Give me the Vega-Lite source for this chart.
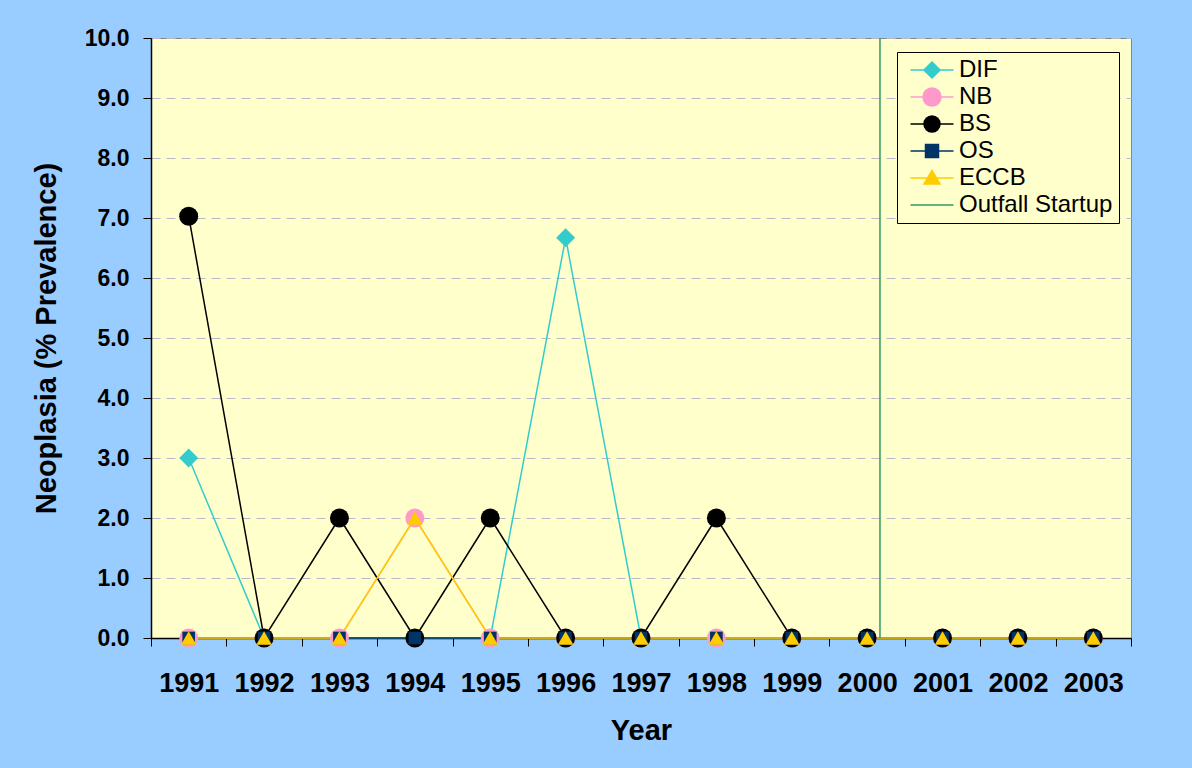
{
  "$schema": "https://vega.github.io/schema/vega-lite/v6.json",
  "width": 980,
  "height": 600,
  "autosize": {"type": "none"},
  "padding": {"left": 151, "top": 38, "right": 61, "bottom": 130},
  "background": "#99CCFF",
  "config": {
    "font": "Liberation Sans",
    "view": {"fill": "#FFFFCC", "stroke": "#888888", "strokeWidth": 1}
  },
  "datasets": {
    "main": [
      {"year": 1991, "series": "DIF", "value": 3.0},
      {"year": 1992, "series": "DIF", "value": 0},
      {"year": 1993, "series": "DIF", "value": 0},
      {"year": 1994, "series": "DIF", "value": 0},
      {"year": 1995, "series": "DIF", "value": 0},
      {"year": 1996, "series": "DIF", "value": 6.67},
      {"year": 1997, "series": "DIF", "value": 0},
      {"year": 1998, "series": "DIF", "value": 0},
      {"year": 1999, "series": "DIF", "value": 0},
      {"year": 2000, "series": "DIF", "value": 0},
      {"year": 2001, "series": "DIF", "value": 0},
      {"year": 2002, "series": "DIF", "value": 0},
      {"year": 2003, "series": "DIF", "value": 0},
      {"year": 1991, "series": "NB", "value": 0},
      {"year": 1992, "series": "NB", "value": 0},
      {"year": 1993, "series": "NB", "value": 0},
      {"year": 1994, "series": "NB", "value": 2.0},
      {"year": 1995, "series": "NB", "value": 0},
      {"year": 1996, "series": "NB", "value": 0},
      {"year": 1997, "series": "NB", "value": 0},
      {"year": 1998, "series": "NB", "value": 0},
      {"year": 1999, "series": "NB", "value": 0},
      {"year": 2000, "series": "NB", "value": 0},
      {"year": 2001, "series": "NB", "value": 0},
      {"year": 2002, "series": "NB", "value": 0},
      {"year": 2003, "series": "NB", "value": 0},
      {"year": 1991, "series": "BS", "value": 7.03},
      {"year": 1992, "series": "BS", "value": 0},
      {"year": 1993, "series": "BS", "value": 2.0},
      {"year": 1994, "series": "BS", "value": 0},
      {"year": 1995, "series": "BS", "value": 2.0},
      {"year": 1996, "series": "BS", "value": 0},
      {"year": 1997, "series": "BS", "value": 0},
      {"year": 1998, "series": "BS", "value": 2.0},
      {"year": 1999, "series": "BS", "value": 0},
      {"year": 2000, "series": "BS", "value": 0},
      {"year": 2001, "series": "BS", "value": 0},
      {"year": 2002, "series": "BS", "value": 0},
      {"year": 2003, "series": "BS", "value": 0},
      {"year": 1991, "series": "OS", "value": 0},
      {"year": 1992, "series": "OS", "value": 0},
      {"year": 1993, "series": "OS", "value": 0},
      {"year": 1994, "series": "OS", "value": 0},
      {"year": 1995, "series": "OS", "value": 0},
      {"year": 1996, "series": "OS", "value": 0},
      {"year": 1997, "series": "OS", "value": 0},
      {"year": 1998, "series": "OS", "value": 0},
      {"year": 1999, "series": "OS", "value": 0},
      {"year": 2000, "series": "OS", "value": 0},
      {"year": 2001, "series": "OS", "value": 0},
      {"year": 2002, "series": "OS", "value": 0},
      {"year": 2003, "series": "OS", "value": 0},
      {"year": 1991, "series": "ECCB", "value": 0},
      {"year": 1992, "series": "ECCB", "value": 0},
      {"year": 1993, "series": "ECCB", "value": 0},
      {"year": 1994, "series": "ECCB", "value": 2.0},
      {"year": 1995, "series": "ECCB", "value": 0},
      {"year": 1996, "series": "ECCB", "value": 0},
      {"year": 1997, "series": "ECCB", "value": 0},
      {"year": 1998, "series": "ECCB", "value": 0},
      {"year": 1999, "series": "ECCB", "value": 0},
      {"year": 2000, "series": "ECCB", "value": 0},
      {"year": 2001, "series": "ECCB", "value": 0},
      {"year": 2002, "series": "ECCB", "value": 0},
      {"year": 2003, "series": "ECCB", "value": 0}
    ],
    "outfall": [{"year": 2000, "series": "Outfall Startup"}]
  },
  "layer": [
    {
      "data": {"name": "main"},
      "mark": {"type": "line", "strokeWidth": 1.5},
      "encoding": {
        "x": {
          "field": "year", "type": "ordinal",
          "scale": {"domain": [1991,1992,1993,1994,1995,1996,1997,1998,1999,2000,2001,2002,2003], "paddingInner": 0, "paddingOuter": 0},
          "axis": {
            "title": "Year", "titleFontSize": 29, "titleFontWeight": "bold", "titleColor": "black", "titlePadding": 20,
            "labelAngle": 0, "labelFontSize": 27, "labelFontWeight": "bold", "labelColor": "black", "labelPadding": 24,
            "tickBand": "extent", "tickSize": 8, "tickColor": "black", "domainColor": "black", "domainWidth": 1.5, "grid": false
          }
        },
        "y": {
          "field": "value", "type": "quantitative",
          "scale": {"domain": [0, 10], "nice": false},
          "axis": {
            "title": "Neoplasia (% Prevalence)", "titleFontSize": 29, "titleFontWeight": "bold", "titleColor": "black", "titlePadding": 23,
            "values": [0,1,2,3,4,5,6,7,8,9,10], "format": ".1f",
            "labelFontSize": 23, "labelFontWeight": "bold", "labelColor": "black", "labelPadding": 14,
            "tickSize": 8, "tickColor": "black", "domainColor": "black", "domainWidth": 1.5,
            "grid": true, "gridColor": "#B8B8C8", "gridDash": [9, 6], "gridWidth": 1
          }
        },
        "color": {
          "field": "series", "type": "nominal",
          "scale": {
            "domain": ["DIF", "NB", "BS", "OS", "ECCB", "Outfall Startup"],
            "range": ["#33CCCC", "#FF99CC", "#000000", "#003366", "#FFCC00", "#339966"]
          },
          "legend": {
            "title": null, "orient": "none", "legendX": 746, "legendY": 14,
            "fillColor": "#FFFFCC", "strokeColor": "black", "padding": 6,
            "labelFontSize": 24, "labelColor": "black", "labelFont": "Liberation Sans",
            "symbolSize": 400, "symbolStrokeWidth": 1.5, "symbolOffset": 17, "labelOffset": 15,
            "rowPadding": 3,
            "encode": {
              "symbols": {
                "update": {
                  "shape": {"signal": "datum.value==='DIF' ? 'M-2.15,0H2.15M-0.8,0L0,-0.8L0.8,0L0,0.8Z' : datum.value==='NB' ? 'M-2.15,0H2.15M-0.9,0A0.9,0.9,0,1,1,0.9,0A0.9,0.9,0,1,1,-0.9,0Z' : datum.value==='BS' ? 'M-2.15,0H2.15M-0.8,0A0.8,0.8,0,1,1,0.8,0A0.8,0.8,0,1,1,-0.8,0Z' : datum.value==='OS' ? 'M-2.15,0H2.15M-0.65,-0.65H0.65V0.65H-0.65Z' : datum.value==='ECCB' ? 'M-2.15,0H2.15M0,-0.75L0.8,0.6L-0.8,0.6Z' : 'M-2.15,0H2.15'"},
                  "fill": {"signal": "datum.value==='Outfall Startup' ? 'transparent' : scale('color', datum.value)"},
                  "stroke": {"signal": "scale('color', datum.value)"},
                  "strokeWidth": {"value": 1.5},
                  "opacity": {"value": 1},
                  "fillOpacity": {"value": 1}
                }
              }
            }
          }
        },
        "detail": {"field": "series"}
      }
    },
    {
      "data": {"name": "main"},
      "transform": [{"filter": "datum.series === 'DIF'"}],
      "mark": {"type": "point", "shape": "diamond", "size": 361, "filled": true, "opacity": 1, "strokeWidth": 0},
      "encoding": {
        "x": {"field": "year", "type": "ordinal"},
        "y": {"field": "value", "type": "quantitative"},
        "color": {"field": "series", "type": "nominal"}
      }
    },
    {
      "data": {"name": "main"},
      "transform": [{"filter": "datum.series === 'NB'"}],
      "mark": {"type": "point", "shape": "circle", "size": 361, "filled": true, "opacity": 1, "strokeWidth": 0},
      "encoding": {
        "x": {"field": "year", "type": "ordinal"},
        "y": {"field": "value", "type": "quantitative"},
        "color": {"field": "series", "type": "nominal"}
      }
    },
    {
      "data": {"name": "main"},
      "transform": [{"filter": "datum.series === 'BS'"}],
      "mark": {"type": "point", "shape": "circle", "size": 361, "filled": true, "opacity": 1, "strokeWidth": 0},
      "encoding": {
        "x": {"field": "year", "type": "ordinal"},
        "y": {"field": "value", "type": "quantitative"},
        "color": {"field": "series", "type": "nominal"}
      }
    },
    {
      "data": {"name": "main"},
      "transform": [{"filter": "datum.series === 'OS'"}],
      "mark": {"type": "point", "shape": "square", "size": 160, "filled": true, "opacity": 1, "strokeWidth": 0},
      "encoding": {
        "x": {"field": "year", "type": "ordinal"},
        "y": {"field": "value", "type": "quantitative"},
        "color": {"field": "series", "type": "nominal"}
      }
    },
    {
      "data": {"name": "main"},
      "transform": [{"filter": "datum.series === 'ECCB'"}],
      "mark": {"type": "point", "shape": "triangle-up", "size": 240, "filled": true, "opacity": 1, "strokeWidth": 0},
      "encoding": {
        "x": {"field": "year", "type": "ordinal"},
        "y": {"field": "value", "type": "quantitative"},
        "color": {"field": "series", "type": "nominal"}
      }
    },
    {
      "data": {"name": "outfall"},
      "mark": {"type": "rule", "strokeWidth": 1.5},
      "encoding": {
        "x": {"field": "year", "type": "ordinal", "bandPosition": 0.67},
        "color": {"field": "series", "type": "nominal"}
      }
    }
  ]
}
